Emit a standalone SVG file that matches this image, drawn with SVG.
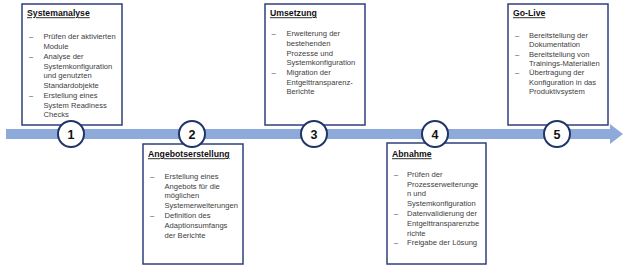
<svg xmlns="http://www.w3.org/2000/svg" width="628" height="267" viewBox="0 0 628 267">
<style>
.box{fill:#fff;stroke:#2F3F7F;stroke-width:1.5}
.t{font-family:"Liberation Sans",Arial,sans-serif;font-size:8.7px;font-weight:bold;text-decoration:underline;fill:#111}
.b{font-family:"Liberation Sans",Arial,sans-serif;font-size:7.6px;fill:#404040}
.c{fill:#fff;stroke:#1F3568;stroke-width:2}
.n{font-family:"Liberation Sans",Arial,sans-serif;font-size:12.5px;font-weight:bold;fill:#111;text-anchor:middle}
</style>
<rect width="628" height="267" fill="#fff"/>
<g id="connectors">
<rect x="6" y="129" width="607" height="10" fill="#8EAADB"/>
<polygon points="610,124 623,134 610,144" fill="#8EAADB"/>
</g>
<g id="node1">
<rect class="box" x="22" y="4" width="100" height="121"/>
<text class="t" x="27" y="16.3">Systemanalyse</text>
<text class="b" x="29" y="39.3">–</text>
<text class="b" x="43.5" y="39.3">Prüfen der aktivierten</text>
<text class="b" x="43.5" y="49">Module</text>
<text class="b" x="29" y="58.8">–</text>
<text class="b" x="43.5" y="58.8">Analyse der</text>
<text class="b" x="43.5" y="68.5">Systemkonfiguration</text>
<text class="b" x="43.5" y="78.3">und genutzten</text>
<text class="b" x="43.5" y="88">Standardobjekte</text>
<text class="b" x="29" y="97.8">–</text>
<text class="b" x="43.5" y="97.8">Erstellung eines</text>
<text class="b" x="43.5" y="107.5">System Readiness</text>
<text class="b" x="43.5" y="117.3">Checks</text>
</g>
<g id="node2">
<rect class="box" x="143" y="144" width="100" height="120"/>
<text class="t" x="148" y="157.3">Angebotserstellung</text>
<text class="b" x="150" y="178.8">–</text>
<text class="b" x="164.5" y="178.8">Erstellung eines</text>
<text class="b" x="164.5" y="188.6">Angebots für die</text>
<text class="b" x="164.5" y="198.4">möglichen</text>
<text class="b" x="164.5" y="208.2">Systemerweiterungen</text>
<text class="b" x="150" y="218">–</text>
<text class="b" x="164.5" y="218">Definition des</text>
<text class="b" x="164.5" y="227.8">Adaptionsumfangs</text>
<text class="b" x="164.5" y="237.6">der Berichte</text>
</g>
<g id="node3">
<rect class="box" x="265" y="4" width="100" height="121"/>
<text class="t" x="270" y="16.3">Umsetzung</text>
<text class="b" x="271.5" y="36.3">–</text>
<text class="b" x="286.5" y="36.3">Erweiterung der</text>
<text class="b" x="286.5" y="46">bestehenden</text>
<text class="b" x="286.5" y="55.6">Prozesse und</text>
<text class="b" x="286.5" y="65.3">Systemkonfiguration</text>
<text class="b" x="271.5" y="74.9">–</text>
<text class="b" x="286.5" y="74.9">Migration der</text>
<text class="b" x="286.5" y="84.6">Entgelttransparenz-</text>
<text class="b" x="286.5" y="94.2">Berichte</text>
</g>
<g id="node4">
<rect class="box" x="387" y="143" width="99" height="121"/>
<text class="t" x="392" y="157.3">Abnahme</text>
<text class="b" x="394" y="176.8">–</text>
<text class="b" x="407" y="176.8">Prüfen der</text>
<text class="b" x="407" y="186.6">Prozesserweiterunge</text>
<text class="b" x="407" y="196.4">n und</text>
<text class="b" x="407" y="206.2">Systemkonfiguration</text>
<text class="b" x="394" y="216">–</text>
<text class="b" x="407" y="216">Datenvalidierung der</text>
<text class="b" x="407" y="225.8">Entgelttransparenzbe</text>
<text class="b" x="407" y="235.6">richte</text>
<text class="b" x="394" y="245.4">–</text>
<text class="b" x="407" y="245.4">Freigabe der Lösung</text>
</g>
<g id="node5">
<rect class="box" x="508" y="4" width="100" height="121"/>
<text class="t" x="513" y="16.3">Go-Live</text>
<text class="b" x="515" y="37.8">–</text>
<text class="b" x="529" y="37.8">Bereitstellung der</text>
<text class="b" x="529" y="47.2">Dokumentation</text>
<text class="b" x="515" y="56.6">–</text>
<text class="b" x="529" y="56.6">Bereitstellung von</text>
<text class="b" x="529" y="66">Trainings-Materialien</text>
<text class="b" x="515" y="75.4">–</text>
<text class="b" x="529" y="75.4">Übertragung der</text>
<text class="b" x="529" y="84.8">Konfiguration in das</text>
<text class="b" x="529" y="94.2">Produktivsystem</text>
</g>
<g id="markers">
<g id="step1"><circle class="c" cx="71" cy="134" r="13"/><text class="n" x="71" y="138.5">1</text></g>
<g id="step2"><circle class="c" cx="192" cy="134" r="13"/><text class="n" x="192" y="138.5">2</text></g>
<g id="step3"><circle class="c" cx="314" cy="134" r="13"/><text class="n" x="314" y="138.5">3</text></g>
<g id="step4"><circle class="c" cx="435" cy="134" r="13"/><text class="n" x="435" y="138.5">4</text></g>
<g id="step5"><circle class="c" cx="557" cy="134" r="13"/><text class="n" x="557" y="138.5">5</text></g>
</g>
</svg>
